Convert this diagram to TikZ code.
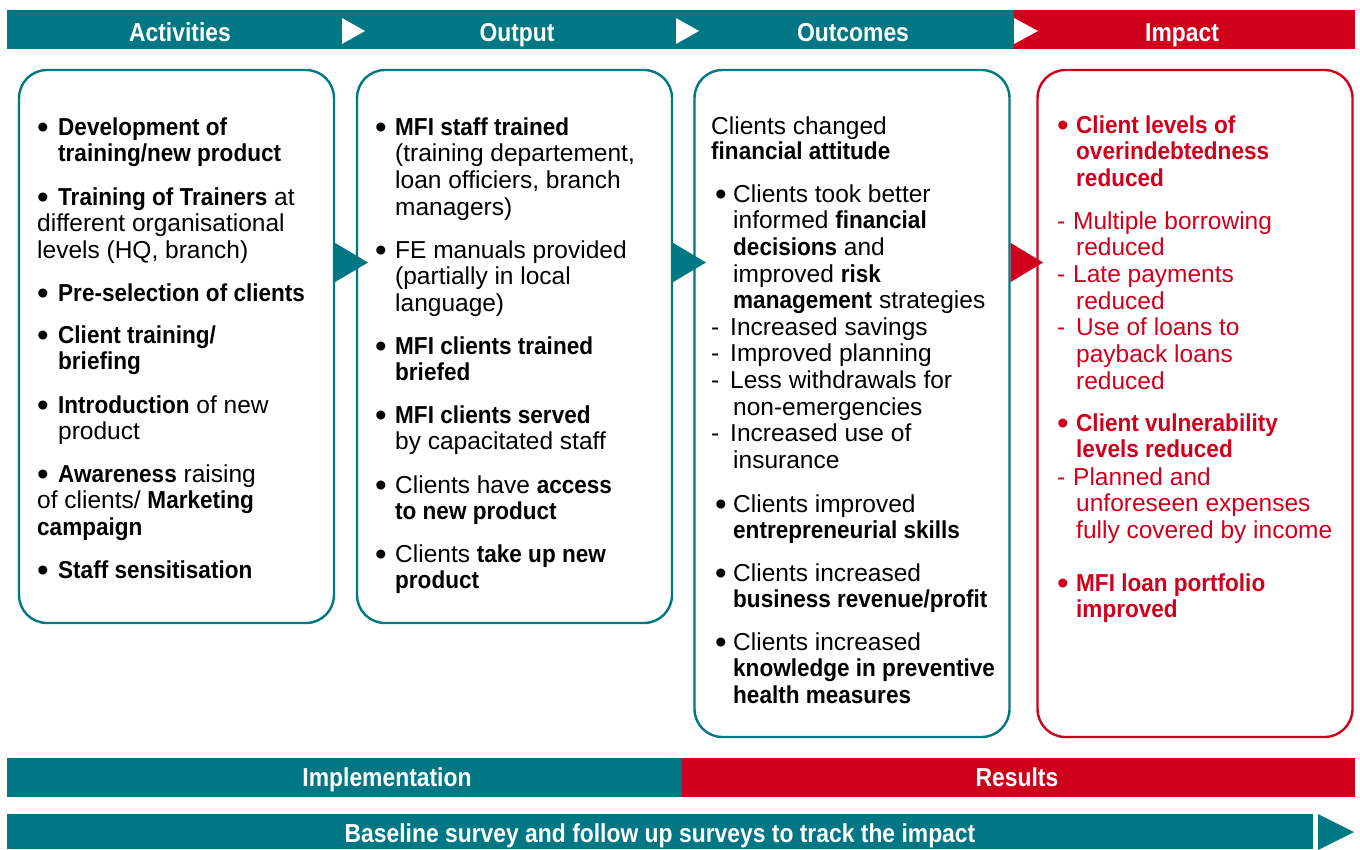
\documentclass[tikz,border=0pt]{standalone}
\usepackage{fontspec}
\usepackage{graphicx}
\setmainfont{Liberation Sans}[BoldFeatures={FakeStretch=0.92}]
\newfontfamily\hdrfont{Liberation Sans Bold}[FakeStretch=0.88]
\definecolor{tealc}{RGB}{0,119,132}
\definecolor{redc}{RGB}{208,0,28}
\newcommand\bul[1][20pt]{\makebox[#1][l]{\raisebox{-3pt}{\scalebox{1.35}{\textbullet}}}}
\newcommand\ind[1][20pt]{\hspace*{#1}}
\newcommand\dsh[1][19pt]{\makebox[#1][l]{-}}
\begin{document}
\begin{tikzpicture}[x=1pt,y=-1pt,
  box/.style={draw=tealc, line width=2.4pt, rounded corners=28pt, minimum width=315pt, inner sep=0pt},
  hdr/.style={anchor=base, inner sep=0pt, text=white, font=\hdrfont\fontsize{26}{28}\selectfont},
  txt/.style={anchor=north west, align=left, inner sep=0pt, font=\fontsize{24.5}{26.7}\selectfont},
  rtxt/.style={txt, text=redc}
]
\useasboundingbox (0,0) rectangle (1360,849);
% top bar
\fill[tealc] (7,10) rectangle (1014,49);
\fill[redc] (1014,10) rectangle (1355,49);
\fill[white] (342,18) -- (342,44) -- (365,31) -- cycle;
\fill[white] (676,18) -- (676,44) -- (699,31) -- cycle;
\fill[white] (1014,18) -- (1014,44) -- (1038,31) -- cycle;
\node[hdr] (h1) at (180,41) {Activities};
\node[hdr] (h2) at (517,41) {Output};
\node[hdr] (h3) at (853,41) {Outcomes};
\node[hdr] (h4) at (1182,41) {Impact};
% boxes
\node[box, minimum height=553pt] (A) at (176.5,346.5) {};
\node[box, minimum height=553pt] (B) at (514.5,346.5) {};
\node[box, minimum height=667pt] (C) at (852,403.5) {};
\node[box, draw=redc, minimum height=667pt] (D) at (1195,403.5) {};
% arrows between boxes
\fill[tealc] (A.east |- 0,243) -- (A.east |- 0,282) -- (368,262.5) -- cycle;
\fill[tealc] (B.east |- 0,243) -- (B.east |- 0,282) -- (706,262.5) -- cycle;
\fill[redc] (C.east |- 0,243) -- (C.east |- 0,282) -- (1043,262.5) -- cycle;
% Activities
\node[txt] (a1) at (37,116.3) {\strut\bul[21pt]\textbf{Development of}\\ \ind[21pt]\textbf{training/new product}};
\node[txt] (a2) at (37,186.3) {\strut\bul[21pt]\textbf{Training of Trainers} at\\ different organisational\\ levels (HQ, branch)};
\node[txt] (a3) at (37,282.3) {\strut\bul[21pt]\textbf{Pre-selection of clients}};
\node[txt] (a4) at (37,324.3) {\strut\bul[21pt]\textbf{Client training/}\\ \ind[21pt]\textbf{briefing}};
\node[txt] (a5) at (37,394.3) {\strut\bul[21pt]\textbf{Introduction} of new\\ \ind[21pt]product};
\node[txt] (a6) at (37,463.3) {\strut\bul[21pt]\textbf{Awareness} raising\\ of clients/ \textbf{Marketing}\\ \textbf{campaign}};
\node[txt] (a7) at (37,559.3) {\strut\bul[21pt]\textbf{Staff sensitisation}};
% Output
\node[txt] (b1) at (375,116.3) {\strut\bul\textbf{MFI staff trained}\\ \ind(training departement,\\ \ind loan officiers, branch\\ \ind managers)};
\node[txt] (b2) at (375,239.3) {\strut\bul FE manuals provided\\ \ind(partially in local\\ \ind language)};
\node[txt] (b3) at (375,335.3) {\strut\bul\textbf{MFI clients trained}\\ \ind\textbf{briefed}};
\node[txt] (b4) at (375,404.3) {\strut\bul\textbf{MFI clients served}\\ \ind by capacitated staff};
\node[txt] (b5) at (375,474.3) {\strut\bul Clients have \textbf{access}\\ \ind\textbf{to new product}};
\node[txt] (b6) at (375,543.3) {\strut\bul Clients \textbf{take up new}\\ \ind\textbf{product}};
% Outcomes
\node[txt] (c1) at (711,115.3) {\strut Clients changed\\[-1.7pt] \textbf{financial attitude}};
\node[txt] (c2) at (715,183.3) {\strut\bul[18pt]Clients took better\\ \ind[18pt]informed \textbf{financial}\\ \ind[18pt]\textbf{decisions} and\\ \ind[18pt]improved \textbf{risk}\\ \ind[18pt]\textbf{management} strategies};
\node[txt] (c3) at (711,316.3) {\strut\dsh Increased savings\\ \dsh Improved planning\\ \dsh Less withdrawals for\\ \ind[22pt]non-emergencies\\ \dsh Increased use of\\ \ind[22pt]insurance};
\node[txt] (c4) at (715,493.3) {\strut\bul[18pt]Clients improved\\ \ind[18pt]\textbf{entrepreneurial skills}};
\node[txt] (c5) at (715,562.3) {\strut\bul[18pt]Clients increased\\ \ind[18pt]\textbf{business revenue/profit}};
\node[txt] (c6) at (715,631.3) {\strut\bul[18pt]Clients increased\\ \ind[18pt]\textbf{knowledge in preventive}\\ \ind[18pt]\textbf{health measures}};
% Impact
\node[rtxt] (d1) at (1057,114.3) {\strut\bul[19pt]\textbf{Client levels of}\\ \ind[19pt]\textbf{overindebtedness}\\ \ind[19pt]\textbf{reduced}};
\node[rtxt] (d2) at (1057,210.3) {\strut\dsh[16pt]Multiple borrowing\\ \ind[19pt]reduced\\ \dsh[16pt]Late payments\\ \ind[19pt]reduced\\ \dsh[19pt]Use of loans to\\ \ind[19pt]payback loans\\ \ind[19pt]reduced};
\node[rtxt] (d3) at (1057,412.3) {\strut\bul[19pt]\textbf{Client vulnerability}\\ \ind[19pt]\textbf{levels reduced}};
\node[rtxt] (d4) at (1057,466.3) {\strut\dsh[16pt]Planned and\\ \ind[19pt]unforeseen expenses\\ \ind[19pt]fully covered by income};
\node[rtxt] (d5) at (1057,572.3) {\strut\bul[19pt]\textbf{MFI loan portfolio}\\ \ind[19pt]\textbf{improved}};
% bottom bars
\fill[tealc] (7,758) rectangle (682,797);
\fill[redc] (682,758) rectangle (1355,797);
\node[hdr] (f1) at (387,786) {Implementation};
\node[hdr] (f2) at (1017,786) {Results};
\fill[tealc] (7,814) rectangle (1313,849);
\fill[tealc] (1318,814) -- (1318,850) -- (1354,832) -- cycle;
\node[hdr] (f3) at (660,842) {Baseline survey and follow up surveys to track the impact};
\end{tikzpicture}
\end{document}
